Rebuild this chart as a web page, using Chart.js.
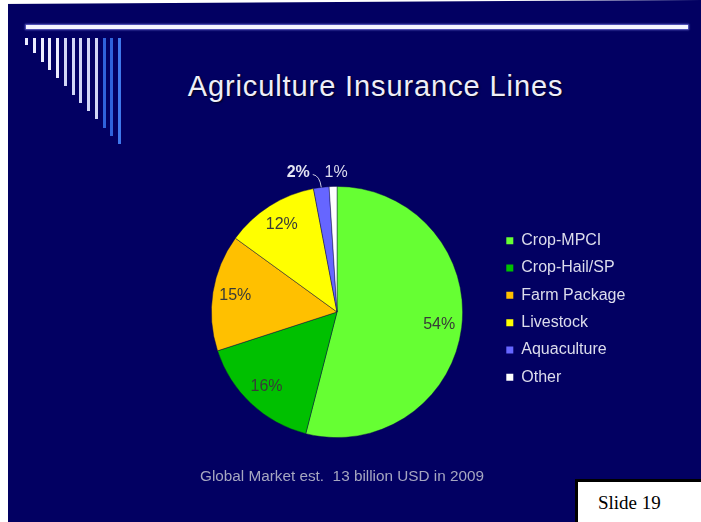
<!DOCTYPE html>
<html>
<head>
<meta charset="utf-8">
<title>Agriculture Insurance Lines</title>
<script src="https://cdn.jsdelivr.net/npm/chart.js@4.4.1/dist/chart.umd.min.js"></script>
<style>
  html, body { margin: 0; padding: 0; }
  body {
    width: 701px; height: 522px; overflow: hidden; position: relative;
    background: rgb(2, 0, 98);
    font-family: "Liberation Sans", Arial, sans-serif;
  }
  .edge-left { position: absolute; left: 0; top: 0; width: 8px; height: 522px; background: #fff; }
  .edge-top { position: absolute; left: 0; top: 0; width: 701px; height: 4px; background: #fff;
              clip-path: polygon(0 0, 100% 0, 0 100%); }
  .rule { position: absolute; left: 26px; top: 25px; width: 662px; height: 4px;
          background: #f4f4ff; box-shadow: 0 0 2px 1px rgba(150,150,255,0.7); }
  .bar { position: absolute; width: 3px; }
  #title { position: absolute; left: 0; width: 751px; top: 72px; text-align: center;
           font-size: 29px; line-height: 29px; letter-spacing: 0.9px; color: #eeeef8;
           text-shadow: 1px 1px 2px rgba(0,0,20,0.9); white-space: nowrap; }
  #note { position: absolute; left: 200px; top: 468px; font-size: 15.3px; line-height: 15px;
          color: #a6a6c0; white-space: pre; }
  #slide { position: absolute; left: 575px; top: 479px; width: 130px; height: 50px;
           background: #fff; border-left: 3px solid #000; border-top: 3px solid #000; }
  #slide span { position: absolute; left: 20px; top: 11px; font-family: "Liberation Serif", "Times New Roman", serif;
                font-size: 19px; line-height: 19px; color: #000; white-space: nowrap; }
  #wrap { position: absolute; left: 0; top: 0; width: 701px; height: 522px; }
</style>
</head>
<body>
<div class="edge-left"></div>
<div class="edge-top"></div>
<div class="rule"></div>
<div id="bars"></div>
<div id="title">Agriculture Insurance Lines</div>
<div id="wrap"><canvas id="pie"></canvas></div>
<div id="note">Global Market est.  13 billion USD in 2009</div>
<div id="slide"><span>Slide 19</span></div>

<script>
// Market share by insurance line (%)
const categories = ['Crop-MPCI', 'Crop-Hail/SP', 'Farm Package', 'Livestock', 'Aquaculture', 'Other'];
const shares = [54, 16, 15, 12, 2, 1];
const sliceColors = ['#66ff33', '#00c000', '#ffc000', '#ffff00', '#6666ff', '#ffffff'];

// Slide header ornament: a row of tapering vertical bars
(function drawOrnament() {
  const host = document.getElementById('bars');
  for (let i = 0; i < 13; i++) {
    const b = document.createElement('div');
    b.className = 'bar';
    b.style.left = (25.2 + i * 7.75) + 'px';
    b.style.top = '38px';
    b.style.height = (7 + i * 8.25) + 'px';
    b.style.background = i < 10 ? (i < 5 ? '#ececff' : '#d2d6f6') : (i === 12 ? '#3f78ec' : '#2f62dc');
    host.appendChild(b);
  }
})();

Chart.defaults.font.family = '"Liberation Sans", Arial, sans-serif';

// Keeps the pie area square and moves the legend column away from the pie
const legendOffset = {
  id: 'legendOffset',
  afterLayout(chart) {
    const lg = chart.legend;
    const area = chart.chartArea;
    const side = area.bottom - area.top;
    const extra = (area.right - area.left) - side;
    // any surplus width goes to the right of the pie
    area.right -= extra;
    area.width = side;
    lg.left = area.right + 32; lg.right = lg.left + lg.width;
    lg.top -= 3; lg.bottom -= 3;
  }
};

// Percentage labels: inside for large slices, outside for thin ones
const sliceLabels = {
  id: 'sliceLabels',
  afterDatasetsDraw(chart) {
    const ctx = chart.ctx;
    const meta = chart.getDatasetMeta(0);
    const vals = chart.data.datasets[0].data;
    const lastIdx = vals.length - 1;
    meta.data.forEach((arc, i) => {
      const p = arc.getProps(['x', 'y', 'startAngle', 'endAngle', 'outerRadius'], true);
      const mid = (p.startAngle + p.endAngle) / 2;
      const c = Math.cos(mid), s = Math.sin(mid);
      const R = p.outerRadius;
      const text = vals[i] + '%';
      ctx.save();
      ctx.textBaseline = 'middle';
      if (vals[i] >= 5) {
        const r = R * 0.82;
        ctx.font = '16px "Liberation Sans", Arial, sans-serif';
        ctx.fillStyle = '#383b38';
        ctx.textAlign = 'center';
        ctx.fillText(text, p.x + c * r, p.y + s * r);
      } else if (i === lastIdx) {
        const r = R + 14;
        ctx.font = '16px "Liberation Sans", Arial, sans-serif';
        ctx.fillStyle = '#dcdcee';
        ctx.textAlign = 'left';
        ctx.fillText(text, p.x + c * r - 8, p.y + s * r);
      } else {
        const x0 = p.x + c * R, y0 = p.y + s * R;
        const x1 = p.x + c * (R + 12), y1 = p.y + s * (R + 12);
        const x2 = x1 - 7, y2 = y1 - 1;
        ctx.strokeStyle = '#c8c8e0';
        ctx.lineWidth = 1;
        ctx.beginPath();
        ctx.moveTo(x0, y0);
        ctx.quadraticCurveTo(x1, y1, x2, y2);
        ctx.stroke();
        ctx.font = 'bold 16px "Liberation Sans", Arial, sans-serif';
        ctx.fillStyle = '#e4e4f2';
        ctx.textAlign = 'right';
        ctx.fillText(text, x2 - 3, y2 - 2);
      }
      ctx.restore();
    });
  }
};

new Chart(document.getElementById('pie'), {
  type: 'pie',
  data: {
    labels: categories,
    datasets: [{
      data: shares,
      backgroundColor: sliceColors,
      borderColor: 'rgba(10,10,70,0.55)',
      borderWidth: 0.8
    }]
  },
  options: {
    responsive: true,
    maintainAspectRatio: false,
    animation: false,
    layout: { padding: { left: 211, right: 60, top: 186, bottom: 84 } },
    plugins: {
      tooltip: { enabled: false },
      legend: {
        position: 'right',
        labels: {
          boxWidth: 7,
          boxHeight: 7,
          padding: 11.3,
          color: '#dcdcec',
          font: { size: 16 },
          generateLabels(chart) {
            const base = Chart.overrides.pie.plugins.legend.labels.generateLabels(chart);
            return base.map(item => Object.assign(item, { lineWidth: 0, strokeStyle: item.fillStyle }));
          }
        }
      }
    }
  },
  plugins: [legendOffset, sliceLabels]
});
</script>
</body>
</html>
